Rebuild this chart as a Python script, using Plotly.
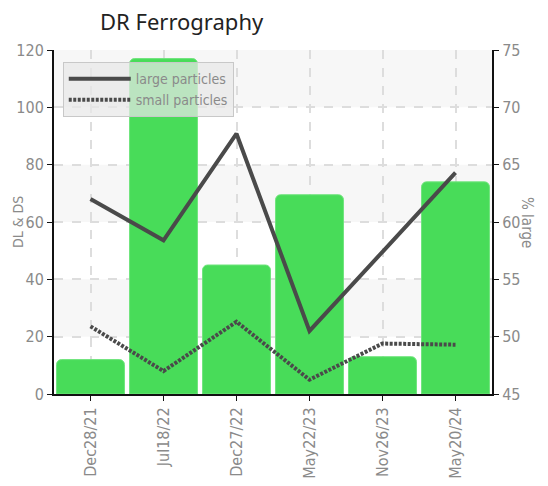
import plotly.graph_objects as go

categories = ["Dec28/21", "Jul18/22", "Dec27/22", "May22/23", "Nov26/23", "May20/24"]
bar_values = [12, 117, 45, 69.5, 13, 74]
large_particles = [62.0, 58.4, 67.7, 50.5, 57.4, 64.3]
small_particles = [50.9, 47.0, 51.3, 46.25, 49.4, 49.3]
left_ticks = [0, 20, 40, 60, 80, 100, 120]
right_ticks = [45, 50, 55, 60, 65, 70, 75]

FONT = "DejaVu Sans Condensed, Liberation Sans Narrow, sans-serif"
GRAY = "#8a8a8a"
LINE = "#4a4a4a"

fig = go.Figure()
fig.add_trace(go.Bar(x=categories, y=bar_values, marker=dict(color="#48dc59", line=dict(color="#6fe47c", width=1)),
                     showlegend=False, yaxis="y"))
fig.add_trace(go.Scatter(x=categories, y=large_particles, mode="lines", name="large particles",
                         line=dict(color=LINE, width=4), yaxis="y2"))
fig.add_trace(go.Scatter(x=categories, y=small_particles, mode="lines", name="small particles",
                         line=dict(color=LINE, width=4, dash="3px,1.5px"), yaxis="y2"))

shapes = []
for lo, hi in [(100, 120), (60, 80), (20, 40)]:
    shapes.append(dict(type="rect", xref="paper", yref="y", x0=0, x1=1, y0=lo, y1=hi,
                       fillcolor="#f7f7f7", line=dict(width=0), layer="below"))

fig.update_layout(
    width=548, height=486,
    margin=dict(l=54, r=56, t=50, b=92, autoexpand=False),
    paper_bgcolor="white", plot_bgcolor="white",
    bargap=0.07, barcornerradius=5,
    shapes=shapes,
    title=dict(text="DR Ferrography", x=100/548, xanchor="left", xref="container",
               y=1-22/486, yanchor="middle", yref="container",
               font=dict(family="Noto Sans, sans-serif", size=22, color="#222")),
    font=dict(family=FONT, color=GRAY, size=15),
    xaxis=dict(type="category", tickangle=-90, showgrid=True, gridcolor="#dddddd", griddash="dash",
               gridwidth=1.5, showline=True, linecolor="#111", linewidth=2, ticks="outside",
               ticklen=5, tickcolor="#111", automargin=False,
               tickfont=dict(family=FONT, size=16, color=GRAY)),
    yaxis=dict(range=[0, 120], tickvals=left_ticks, showgrid=True, gridcolor="#dddddd", griddash="dash",
               gridwidth=1.5, showline=True, linecolor="#111", linewidth=2, ticks="outside", ticklen=5,
               tickcolor="#111", zeroline=False, automargin=False,
               tickfont=dict(family=FONT, size=16, color=GRAY)),
    yaxis2=dict(range=[45, 75], tickvals=right_ticks, overlaying="y", side="right", showgrid=False,
                showline=True, linecolor="#111", linewidth=2, ticks="outside", ticklen=5, tickcolor="#111",
                zeroline=False, automargin=False, tickfont=dict(family=FONT, size=16, color=GRAY)),
    legend=dict(x=0.02, y=0.965, xanchor="left", yanchor="top", bgcolor="rgba(232,232,232,0.72)",
                bordercolor="#c8c8c8", borderwidth=1, itemwidth=62, tracegroupgap=0,
                font=dict(family=FONT, size=14, color=GRAY)),
    annotations=[
        dict(text="DL & DS", textangle=-90, x=0, xref="paper", xshift=-36, xanchor="center",
             y=0.5, yref="paper", showarrow=False, font=dict(family=FONT, size=14, color=GRAY)),
        dict(text="% large", textangle=90, x=1, xref="paper", xshift=35, xanchor="center",
             y=0.5, yref="paper", showarrow=False, font=dict(family=FONT, size=15, color=GRAY)),
    ],
)
fig.write_html("out.html", config={"displayModeBar": False},
               post_script="document.body.style.margin='0';")
